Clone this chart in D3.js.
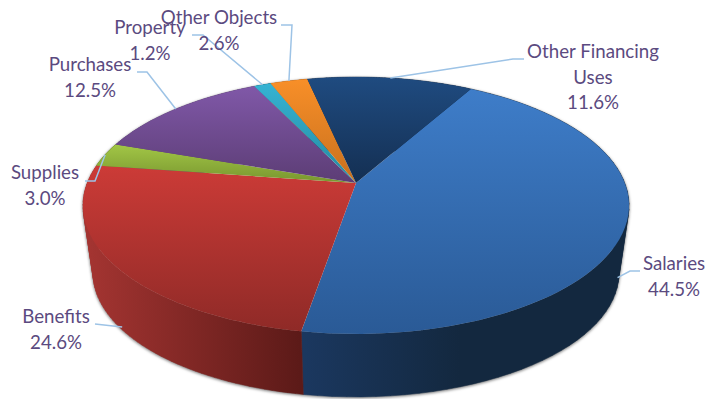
<!DOCTYPE html>
<html><head><meta charset="utf-8">
<script src="https://cdn.jsdelivr.net/npm/d3@7"></script>
<style>html,body{margin:0;padding:0;background:#fff}svg{display:block}text{font-family:Lato,"Open Sans",sans-serif;font-size:18.7px;fill:#5b4a80}</style>
</head><body><svg id="c" width="709" height="399"></svg>
<script>
const categories = ["Salaries","Benefits","Supplies","Purchases","Property","Other Objects","Other Financing Uses"];
const shares = [44.5,24.6,3.0,12.5,1.2,2.6,11.6];
const percentLabels = ["44.5%","24.6%","3.0%","12.5%","1.2%","2.6%","11.6%"];
const labelLines = [["Salaries"],["Benefits"],["Supplies"],["Purchases"],["Property"],["Other Objects"],["Other Financing","Uses"]];
const topShades = [["#3e7dc9","#2a5a96"],["#cc3b37","#8f2a27"],["#a2c646","#78962f"],["#8058a8","#5c3d75"],["#35b3d3","#258a9f"],["#f88f28","#c8701e"],["#1f4b80","#142f52"]];
const wallShades = [["#1b3860","#13283f"],["#a33431","#5c1a18"],["#7c9a30","#6a8428"],["#5f3f7a","#54366c"],["#258a9f","#20798c"],["#c8701e","#b56419"],["#142f52","#102744"]];

// layout: perspective projection of the pie disc
const layout = {ax:356, ay:183, A:124.5, B:268.8, k:0.175, lowerScale:0.963, lowerAy:251.6, startDeg:29.5};
const labelPos = [{x:674,y:264},{x:56,y:317},{x:45,y:173},{x:90,y:65},{x:150,y:28},{x:219,y:18},{x:593,y:52}];
const lineHeight = 25.7;
const leaderElbow = [[[640,271],[630,271]],[[95,324]],[[85,181],[95,181]],[[137,72],[147,72]],[[192,35],[203,35]],[[281,25],[292,25]],[[524,59],[513,59]]];
const leaderWall = [0.75,0.95,0,0,0,0,0];

function project(a, t){
  const u=Math.sin(a), v=Math.cos(a), w=1+layout.k*v;
  const s=1+(layout.lowerScale-1)*t, ay=layout.ay+(layout.lowerAy-layout.ay)*t;
  return [layout.ax+s*layout.B*u/w, ay-s*layout.A*v/w];
}
const svg=d3.select("#c"), defs=svg.append("defs");
const pie=d3.pie().sort(null).startAngle(layout.startDeg*Math.PI/180).endAngle((layout.startDeg+360)*Math.PI/180);
const arcs=pie(shares);
const line=d3.line();
const samples=(a,b)=>d3.range(0,61).map(i=>a+(b-a)*i/60);

arcs.forEach((d,i)=>{
  const g=defs.append("linearGradient").attr("id","t"+i).attr("x1",0).attr("y1",0).attr("x2",0).attr("y2",1);
  g.append("stop").attr("offset",0).attr("stop-color",topShades[i][0]);
  g.append("stop").attr("offset",1).attr("stop-color",topShades[i][1]);
  const xs=samples(d.startAngle,d.endAngle).map(a=>project(a,0)[0]);
  const h=defs.append("linearGradient").attr("id","w"+i).attr("gradientUnits","userSpaceOnUse")
    .attr("x1",i===1?90:(i===0?300:d3.min(xs))).attr("x2",i===1?300:(i===0?620:d3.max(xs))).attr("y1",0).attr("y2",0);
  h.append("stop").attr("offset",0).attr("stop-color",wallShades[i][0]);
  h.append("stop").attr("offset",i===0?0.5:1).attr("stop-color",wallShades[i][1]);
});

// walls: union of small quads, each wound the same way so no holes appear at the silhouette
function wallPath(d){
  const s=samples(d.startAngle,d.endAngle);
  return d3.pairs(s).map(([a,b])=>{
    const hull=d3.polygonHull([project(a,0),project(b,0),project(a,1),project(b,1)]);
    return line(hull)+"Z";
  }).join("");
}
const walls=svg.append("g").style("filter","drop-shadow(0 1.5px 1.5px rgba(0,0,0,.55))");
walls.selectAll("path").data(arcs).join("path")
  .attr("d",wallPath)
  .attr("fill",(d,i)=>`url(#w${i})`).attr("stroke",(d,i)=>`url(#w${i})`).attr("stroke-width",0.5);

// top face
svg.append("g").selectAll("path").data(arcs).join("path")
  .attr("d",d=>line([[layout.ax,layout.ay]].concat(samples(d.startAngle,d.endAngle).map(a=>project(a,0))))+"Z")
  .attr("fill",(d,i)=>`url(#t${i})`);

// leaders
svg.append("g").selectAll("path").data(arcs).join("path")
  .attr("d",(d,i)=>line(leaderElbow[i].concat([project((d.startAngle+d.endAngle)/2,leaderWall[i])])))
  .attr("fill","none").attr("stroke","#9dc3e6").attr("stroke-width",1.5);

// labels
const labels=svg.append("g").selectAll("text").data(categories).join("text")
  .attr("text-anchor","middle").attr("aria-label",d=>d);
labels.each(function(d,i){
  const t=d3.select(this), p=labelPos[i];
  labelLines[i].concat([percentLabels[i]]).forEach((s,j)=>{
    t.append("tspan").attr("x",p.x).attr("y",p.y+6+j*lineHeight).text(s);
  });
});
</script></body></html>
